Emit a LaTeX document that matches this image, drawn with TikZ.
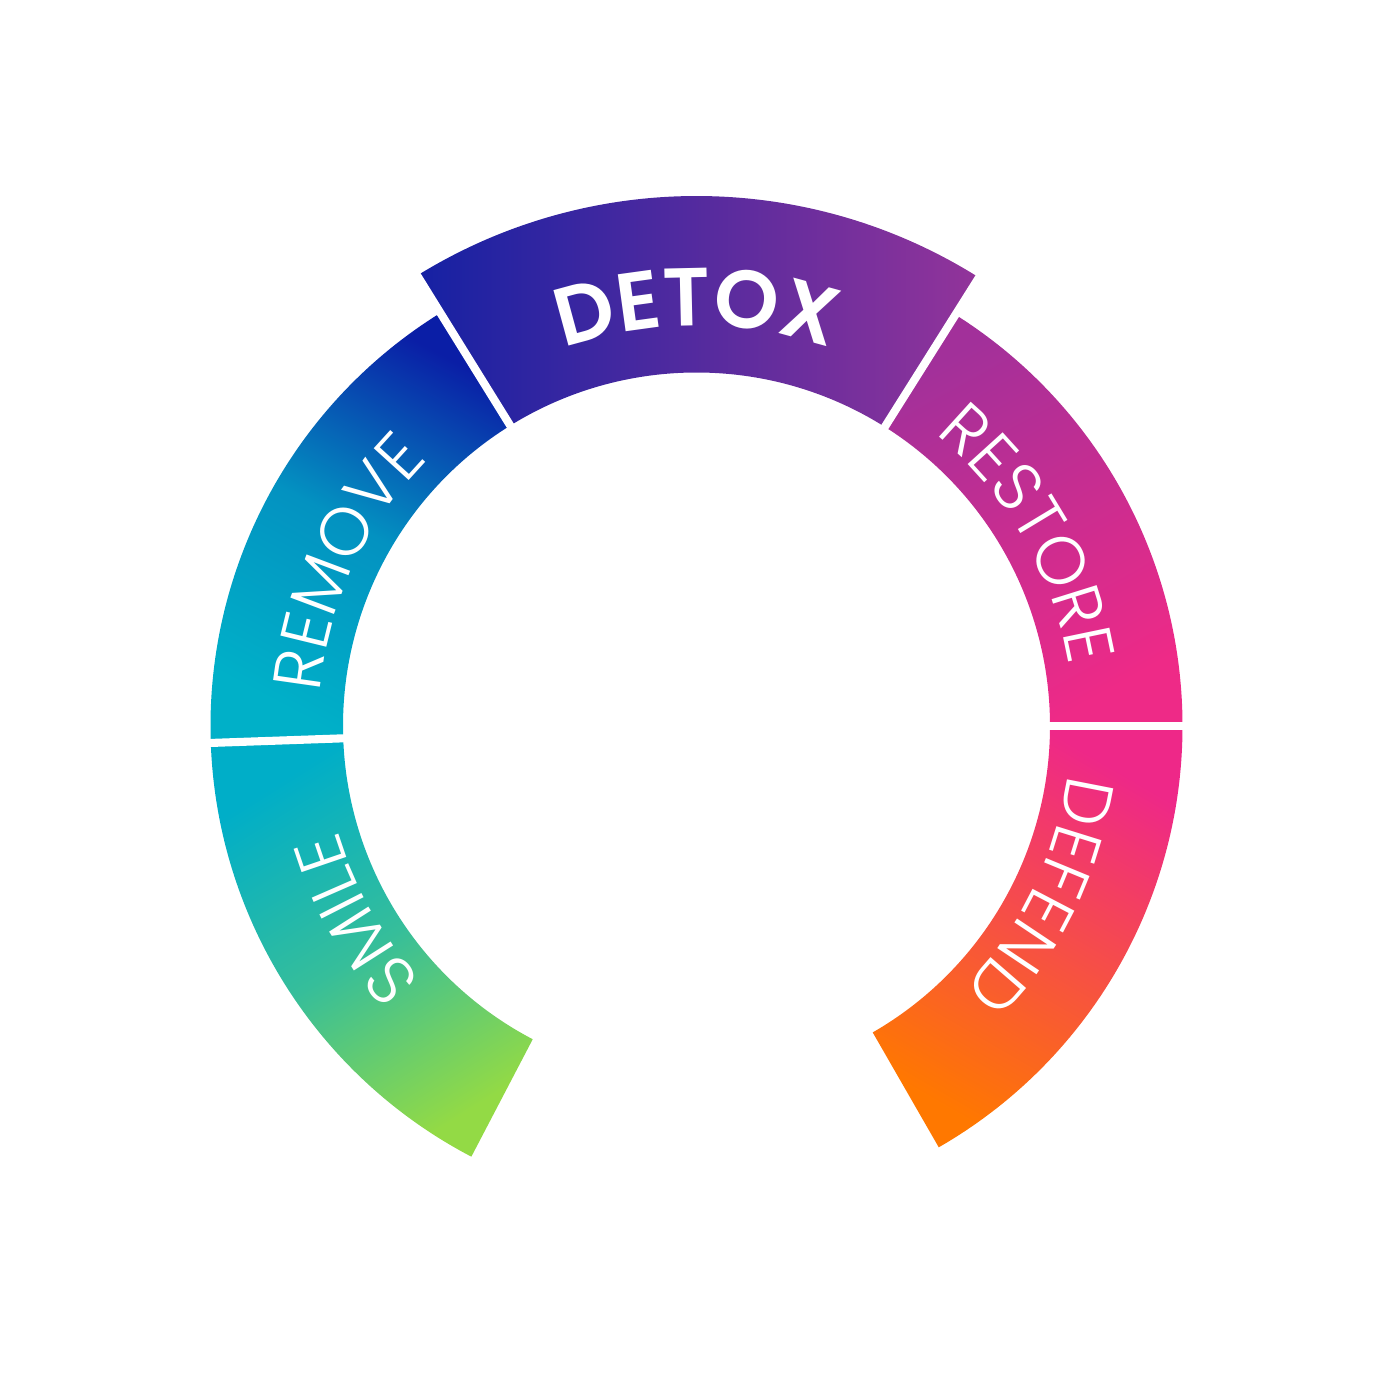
\documentclass[tikz,border=0pt]{standalone}
\usepackage{fontspec}
\setmainfont{Poppins}[UprightFont=* Light, BoldFont=* SemiBold]
\usetikzlibrary{decorations.text}

\definecolor{smiletop}{HTML}{00AEC8}
\definecolor{smilemid}{HTML}{36BE9A}
\definecolor{smilebot}{HTML}{93DA45}
\definecolor{removebot}{HTML}{00B0C8}
\definecolor{removemid}{HTML}{0392C1}
\definecolor{removetop}{HTML}{0A1EA6}
\definecolor{detoxleft}{HTML}{1521A3}
\definecolor{detoxright}{HTML}{93349A}
\definecolor{restoretop}{HTML}{A2309A}
\definecolor{restorebot}{HTML}{EE2A87}
\definecolor{defendtop}{HTML}{EE2888}
\definecolor{defendbot}{HTML}{FF7800}

\tikzset{
	cut/.style={draw=white, line width=2.3pt},
	ringtext/.style={decorate, decoration={text along path, text align=center, text color=white,
		text={|\fontsize{19.2pt}{20pt}\selectfont|#1}}},
	bigtext/.style={decorate, decoration={text along path, text align=center, text color=white,
		text={|\fontsize{23.4pt}{24pt}\selectfont\bfseries|#1}}}
}

\begin{document}
\begin{tikzpicture}
	\useasboundingbox (0,0) rectangle (14,14);
	\begin{scope}[shift={(6.965,6.74)}]
	% ring parts
	\shade[top color=smiletop, bottom color=smilebot, middle color=smilemid, shading angle=32]
	(182:3.535) arc[start angle=182, end angle=242.4, radius=3.535] -- (242.4:4.86) arc[start angle=242.4, end angle=182, radius=4.86] -- cycle;
	\shade[top color=removetop, bottom color=removebot, middle color=removemid, shading angle=-28]
	(121.8:3.535) arc[start angle=121.8, end angle=182, radius=3.535] -- (182:4.86) arc[start angle=182, end angle=121.8, radius=4.86] -- cycle;
	\shade[left color=detoxleft, right color=detoxright]
	(57.8:3.535) arc[start angle=57.8, end angle=121.8, radius=3.535] -- (121.8:5.3) arc[start angle=121.8, end angle=57.8, radius=5.3] -- cycle;
	\shade[top color=restoretop, bottom color=restorebot, shading angle=29]
	(0:3.535) arc[start angle=0, end angle=57.8, radius=3.535] -- (57.8:4.86) arc[start angle=57.8, end angle=0, radius=4.86] -- cycle;
	\shade[top color=defendtop, bottom color=defendbot, shading angle=-30]
	(-60.1:3.535) arc[start angle=-60.1, end angle=0, radius=3.535] -- (0:4.86) arc[start angle=0, end angle=-60.1, radius=4.86] -- cycle;

	% white cuts
	\draw[cut] (182:3.4) -- (182:5);
	\draw[cut] (121.8:3.4) -- (121.8:5.45);
	\draw[cut] (57.8:3.4) -- (57.8:5.45);
	\draw[cut] (0:3.4) -- (0:5);

	% labels
	\path[ringtext=SMILE] (234.5:3.74) arc[start angle=234.5, end angle=184.5, radius=3.74];
	\path[ringtext=REMOVE] (180:3.78) arc[start angle=180, end angle=130, radius=3.78];
	\path[bigtext=DETOX] (115:4) arc[start angle=115, end angle=65, radius=4];
	\path[ringtext=RESTORE] (55:3.77) arc[start angle=55, end angle=5, radius=3.77];
	\path[ringtext=DEFEND] (-1:3.74) arc[start angle=-1, end angle=-51, radius=3.74];
	\end{scope}
\end{tikzpicture}
\end{document}
